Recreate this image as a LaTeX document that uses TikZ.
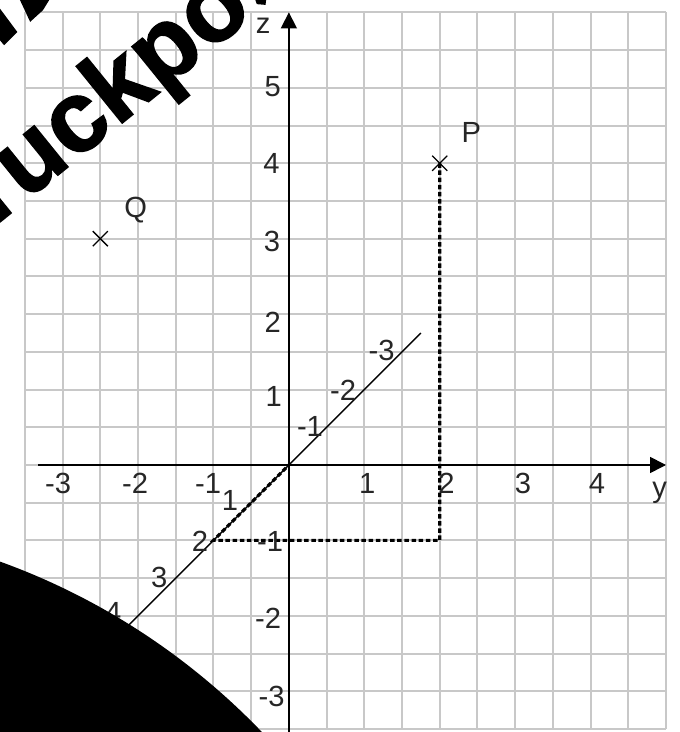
\documentclass[tikz,border=0pt]{standalone}
\usepackage{fontspec}
\setmainfont{Liberation Sans}
\newfontfamily\wmfont[FakeBold=1.5]{Liberation Sans Bold}
\usetikzlibrary{arrows.meta}
\definecolor{gridgray}{RGB}{200,200,200}
\begin{document}
\begin{tikzpicture}[x=1cm,y=1cm,
  gridline/.style={draw=gridgray, line width=1.5pt},
  axisline/.style={line width=1.25pt, -{Triangle[length=0.42cm,width=0.42cm]}},
  diagline/.style={line width=0.95pt},
  lbl/.style={font=\fontsize{22}{26}\selectfont, inner sep=0pt, text=black!85},
  dotline/.style={line width=2.3pt, dash pattern=on 3.4pt off 2pt},
  crossline/.style={line width=1pt},
  wmark/.style={font=\wmfont\fontsize{76}{86}\selectfont, inner sep=0pt, rotate=39, anchor=base west},
  blob/.style={fill=black, draw=none}]
\useasboundingbox (-7.66,-7.08) rectangle (10.36,12.33);
\clip (-7.66,-7.08) rectangle (10.36,12.33);
% grid
\draw[gridline] (-7,-7) grid (10,12);
% coordinates
\coordinate (O) at (0,0);
\coordinate (yl) at (-6.65,0);
\coordinate (yr) at (10,0);
\coordinate (zb) at (0,-7.2);
\coordinate (zt) at (0,12);
\coordinate (xl) at (-6,-6);
\coordinate (xr) at (3.5,3.5);
\coordinate (P) at (4,8);
\coordinate (Q) at (-5,6);
\coordinate (Py) at (4,-2);
\coordinate (Pxy) at (-2,-2);
% axes
\draw[axisline] (yl) -- (yr);
\draw[axisline] (zb) -- (zt);
\draw[diagline] (xl) -- (xr);
% dashed projection
\draw[dotline] (P) -- (Py) -- (Pxy) -- (O);
% crosses
\draw[crossline] ([shift={(-0.2,-0.2)}]P) -- ([shift={(0.2,0.2)}]P);
\draw[crossline] ([shift={(-0.2,0.2)}]P) -- ([shift={(0.2,-0.2)}]P);
\draw[crossline] ([shift={(-0.2,-0.2)}]Q) -- ([shift={(0.2,0.2)}]Q);
\draw[crossline] ([shift={(-0.2,0.2)}]Q) -- ([shift={(0.2,-0.2)}]Q);
\node[lbl] (Plabel) at (4.84,8.83) {P};
\node[lbl] (Qlabel) at (-4.06,6.76) {Q};
% horizontal axis labels
\node[lbl] (ym3) at (-6.12,-0.49) {-3};
\node[lbl] (ym2) at (-4.08,-0.49) {-2};
\node[lbl] (ym1) at (-2.14,-0.49) {-1};
\node[lbl] (yp1) at (2.08,-0.49) {1};
\node[lbl] (yp2) at (4.18,-0.49) {2};
\node[lbl] (yp3) at (6.21,-0.49) {3};
\node[lbl] (yp4) at (8.17,-0.49) {4};
\node[lbl, anchor=base] (ylab) at (9.83,-0.87) {y};
% vertical axis labels
\node[lbl, anchor=base] (zlab) at (-0.68,11.45) {z};
\node[lbl] (zp5) at (-0.43,10.03) {5};
\node[lbl] (zp4) at (-0.46,8.0) {4};
\node[lbl] (zp3) at (-0.45,5.92) {3};
\node[lbl] (zp2) at (-0.43,3.77) {2};
\node[lbl] (zp1) at (-0.40,1.81) {1};
\node[lbl] (zm1) at (-0.50,-2.03) {-1};
\node[lbl] (zm2) at (-0.55,-4.06) {-2};
\node[lbl] (zm3) at (-0.46,-6.14) {-3};
% diagonal axis labels
\node[lbl] (xp1) at (-1.56,-0.93) {1};
\node[lbl] (xp2) at (-2.36,-2.03) {2};
\node[lbl] (xp3) at (-3.44,-2.98) {3};
\node[lbl] (xp4) at (-4.66,-3.92) {4};
\node[lbl] (xm1) at (0.56,1.02) {-1};
\node[lbl] (xm2) at (1.44,1.99) {-2};
\node[lbl] (xm3) at (2.46,3.05) {-3};
% watermark text
\node[wmark] (wm) at (-7.80,6.33) {ruckpo};
\fill[blob] (-7.66,12.10) -- (-7.20,11.48) -- (-7.55,11.13) -- (-7.66,11.26) -- cycle;
\fill[blob] (-7.21,12.5) -- (-6.25,12.5) -- (-6.52,12.06) -- (-6.86,11.75) -- cycle;
\fill[blob] (-0.95,12.5) -- (-0.58,12.5) -- (-0.62,12.20) -- (-0.85,12.22) -- cycle;
% big black disc
\fill[blob] (-13.835,-19.666) circle (18.18);
\end{tikzpicture}
\end{document}
